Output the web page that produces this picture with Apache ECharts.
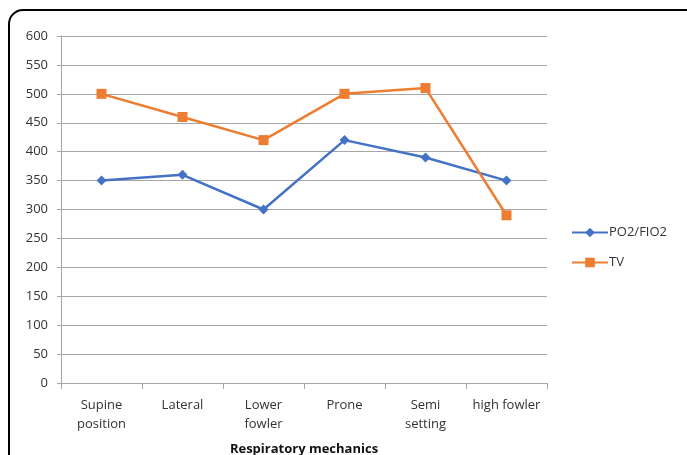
<!DOCTYPE html>
<html>
<head>
<meta charset="utf-8">
<script src="https://cdn.jsdelivr.net/npm/echarts@6/dist/echarts.min.js"></script>
<style>
html,body{margin:0;padding:0;background:#fff;}
#chart{width:687px;height:455px;}
</style>
</head>
<body>
<div id="chart"></div>
<script>
// Positions on the x axis
const categories = ['Supine\nposition', 'Lateral', 'Lower\nfowler', 'Prone', 'Semi\nsetting', 'high fowler'];
// Series values
const po2Fio2 = [350, 360, 300, 420, 390, 350];
const tidalVolume = [500, 460, 420, 500, 510, 290];
// Value axis range
const yMin = 0, yMax = 600, yStep = 50;

const chart = echarts.init(document.getElementById('chart'), null, {renderer: 'canvas'});
const font = 'Open Sans';
chart.setOption({
  animation: false,
  backgroundColor: '#fff',
  graphic: [{
    type: 'rect',
    shape: {x: 9, y: 10, width: 720, height: 480, r: 14},
    style: {fill: 'none', stroke: '#000', lineWidth: 2},
    silent: true
  }],
  grid: {left: 61, right: 140, top: 36, bottom: 72, outerBoundsMode: 'none', containLabel: false},
  legend: {
    orient: 'vertical',
    left: 566,
    top: 221,
    itemWidth: 36,
    itemHeight: 12,
    itemGap: 17,
    textStyle: {fontFamily: font, fontSize: 13, color: '#333', padding: [0, 0, 0, -4]},
    data: ['PO2/FIO2', 'TV']
  },
  xAxis: {
    type: 'category',
    data: categories,
    boundaryGap: true,
    name: 'Respiratory mechanics',
    nameLocation: 'middle',
    nameGap: 60,
    nameTextStyle: {fontFamily: font, fontSize: 13, fontWeight: 'bold', color: '#111'},
    axisLine: {lineStyle: {color: '#a6a6a6', width: 1}},
    axisTick: {show: true, length: 6, lineStyle: {color: '#a6a6a6'}},
    axisLabel: {fontFamily: font, fontSize: 13, color: '#333', margin: 13, lineHeight: 19, interval: 0}
  },
  yAxis: {
    type: 'value',
    min: yMin, max: yMax, interval: yStep,
    axisLine: {show: true, lineStyle: {color: '#a6a6a6', width: 1}},
    axisTick: {show: true, length: 4, lineStyle: {color: '#a6a6a6'}},
    axisLabel: {fontFamily: font, fontSize: 13, color: '#333', margin: 13},
    splitLine: {lineStyle: {color: '#a6a6a6', width: 1}}
  },
  series: [
    {
      name: 'PO2/FIO2',
      type: 'line',
      data: po2Fio2,
      symbol: 'diamond',
      symbolSize: 10,
      itemStyle: {color: '#4472C4'},
      lineStyle: {color: '#4472C4', width: 2.5}
    },
    {
      name: 'TV',
      type: 'line',
      data: tidalVolume,
      symbol: 'rect',
      symbolSize: 10,
      itemStyle: {color: '#ED7D31'},
      lineStyle: {color: '#ED7D31', width: 2.5}
    }
  ]
});
</script>
</body>
</html>
